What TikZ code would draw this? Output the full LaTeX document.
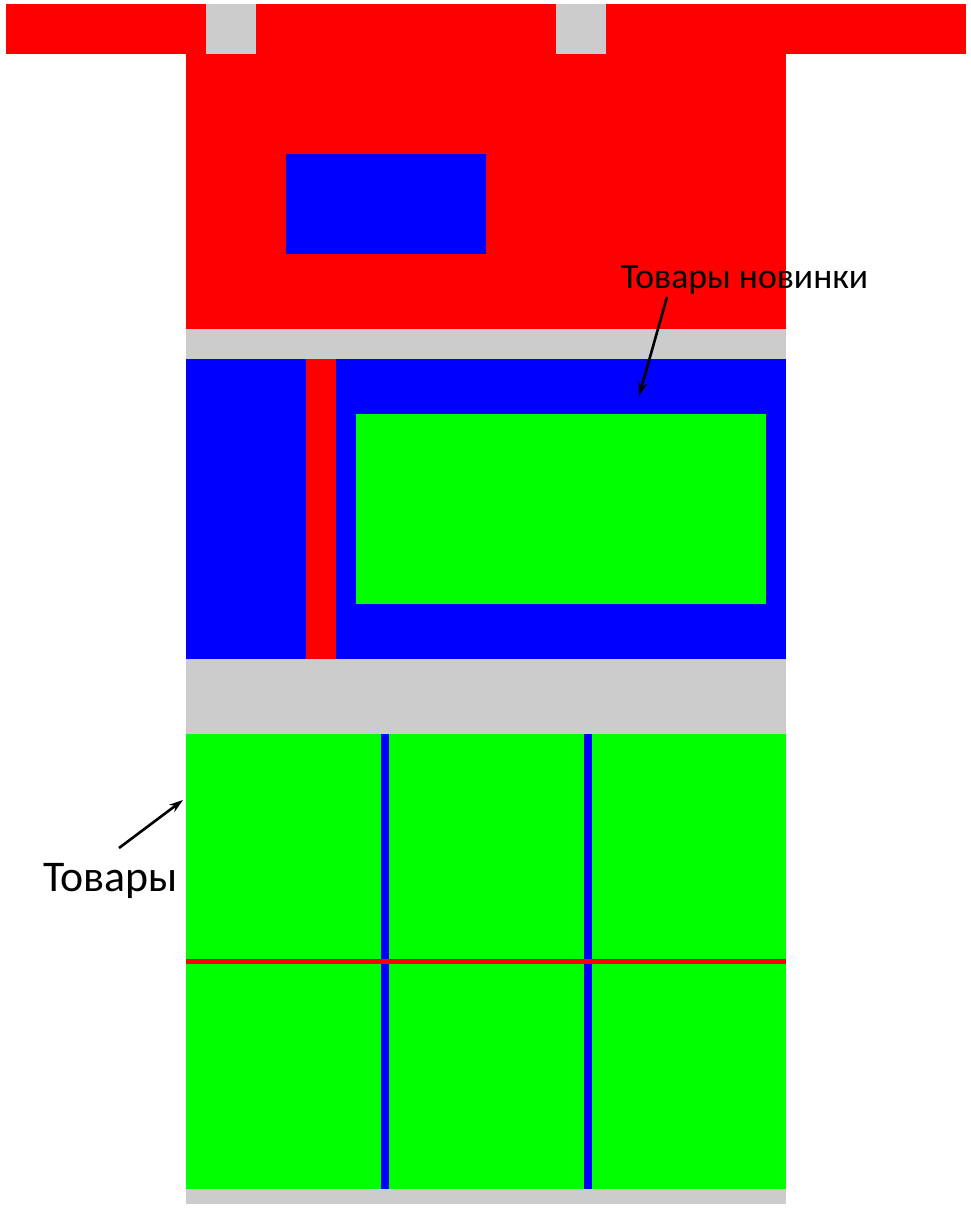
\documentclass[tikz,border=0pt]{standalone}
\usepackage{fontspec}
\setmainfont{Carlito}
\usetikzlibrary{arrows.meta}
\definecolor{cred}{RGB}{255,0,0}
\definecolor{cblue}{RGB}{0,0,255}
\definecolor{cgreen}{RGB}{0,255,0}
\definecolor{cgray}{RGB}{204,204,204}
\begin{document}
\begin{tikzpicture}[x=1pt,y=-1pt,
  lbl/.style={anchor=base west,inner sep=0pt,text=black},
  pointer/.style={line width=2.6pt,-{Stealth[length=14pt,width=9pt]}}]
\useasboundingbox (0,0) rectangle (971,1211);
% top bar
\fill[cred] (6,4) rectangle (966,54);
\fill[cgray] (206,4) rectangle (256,54);
\fill[cgray] (556,4) rectangle (606,54);
% red body
\fill[cred] (186,54) rectangle (786,329);
\fill[cblue] (286,154) rectangle (486,254);
% gray band
\fill[cgray] (186,329) rectangle (786,359);
% blue block
\fill[cblue] (186,359) rectangle (786,659);
\fill[cred] (306,359) rectangle (336,659);
\fill[cgreen] (356,414) rectangle (766,604);
% gray band
\fill[cgray] (186,659) rectangle (786,734);
% green block
\fill[cgreen] (186,734) rectangle (786,1189);
\fill[cblue] (381,734) rectangle (389,1189);
\fill[cblue] (584,734) rectangle (592,1189);
\fill[cred] (186,959) rectangle (786,964);
\fill[cgray] (186,1189) rectangle (786,1204);
% labels
\node[lbl,font=\fontsize{35.7}{42}\selectfont] (tn) at (621,288) {Товары новинки};
\node[lbl,font=\fontsize{43.8}{52}\selectfont] (t) at (43,891) {Товары};
\coordinate (tns) at (667,297);
\coordinate (tne) at (639,396);
\coordinate (ts) at (119,848);
\coordinate (te) at (183,800);
\draw[pointer] (tns) -- (tne);
\draw[pointer] (ts) -- (te);
\end{tikzpicture}
\end{document}
